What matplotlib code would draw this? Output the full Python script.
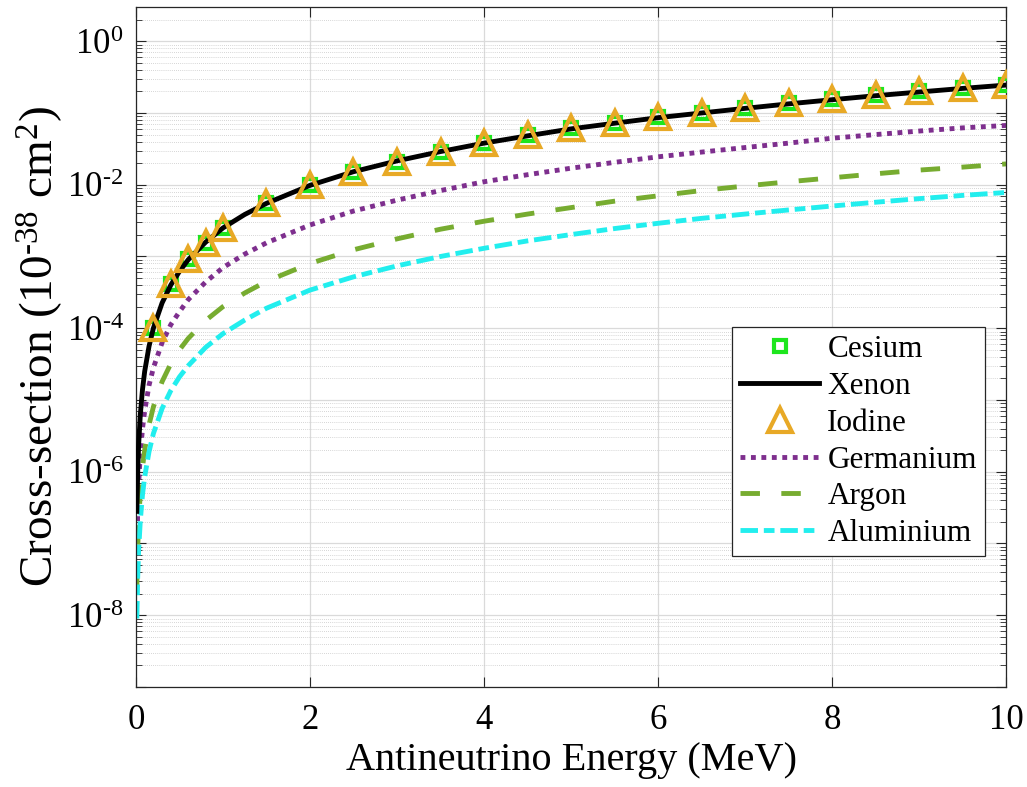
import math

import matplotlib
matplotlib.use('Agg')
import matplotlib.pyplot as plt
from matplotlib.ticker import LogLocator, FixedLocator, FuncFormatter, NullFormatter

plt.rcParams['font.family'] = ['Liberation Serif', 'DejaVu Serif']
plt.rcParams['mathtext.fontset'] = 'custom'
plt.rcParams['mathtext.rm'] = 'Liberation Serif'
plt.rcParams['mathtext.it'] = 'Liberation Serif:italic'

# energies (MeV) for the continuous curves
energy = [0.01, 0.02, 0.03, 0.05, 0.075, 0.1, 0.15, 0.2, 0.3, 0.4, 0.5, 0.6, 0.8,
          1.0, 1.25, 1.5, 2.0, 2.5, 3.0, 3.5, 4.0, 4.5, 5.0, 5.5, 6.0, 6.5, 7.0,
          7.5, 8.0, 8.5, 9.0, 9.5, 10.0]

# cross-sections in units of 1e-38 cm^2
xenon = [2.8e-7, 1.0e-6, 2.3e-6, 6.3e-6, 1.4e-5, 2.5e-5, 5.6e-5, 1.0e-4, 2.25e-4,
         4.0e-4, 6.2e-4, 9.0e-4, 1.58e-3, 2.5e-3, 3.85e-3, 5.5e-3, 9.8e-3, 1.52e-2,
         2.15e-2, 2.9e-2, 3.8e-2, 4.8e-2, 6.0e-2, 7.2e-2, 8.6e-2, 0.100, 0.116,
         0.134, 0.153, 0.174, 0.196, 0.220, 0.245]
germanium = [7.5e-8, 2.9e-7, 6.5e-7, 1.8e-6, 4.0e-6, 7.0e-6, 1.6e-5, 2.8e-5, 6.3e-5,
             1.12e-4, 1.7e-4, 2.5e-4, 4.4e-4, 7.0e-4, 1.08e-3, 1.55e-3, 2.75e-3,
             4.3e-3, 6.1e-3, 8.3e-3, 1.1e-2, 1.38e-2, 1.7e-2, 2.05e-2, 2.45e-2,
             2.85e-2, 3.3e-2, 3.8e-2, 4.45e-2, 5.0e-2, 5.6e-2, 6.2e-2, 6.7e-2]
argon = [2.6e-8, 8.5e-8, 1.9e-7, 5.2e-7, 1.15e-6, 2.0e-6, 4.5e-6, 8.0e-6, 1.8e-5,
         3.2e-5, 5.0e-5, 7.2e-5, 1.28e-4, 2.0e-4, 3.1e-4, 4.5e-4, 8.0e-4, 1.24e-3,
         1.76e-3, 2.4e-3, 3.1e-3, 3.9e-3, 4.8e-3, 5.9e-3, 7.0e-3, 8.3e-3, 9.6e-3,
         1.1e-2, 1.25e-2, 1.42e-2, 1.6e-2, 1.76e-2, 1.95e-2]
aluminium = [9.0e-9, 3.4e-8, 7.7e-8, 2.1e-7, 4.8e-7, 8.5e-7, 1.9e-6, 3.4e-6, 7.6e-6,
             1.35e-5, 2.1e-5, 3.0e-5, 5.4e-5, 8.4e-5, 1.3e-4, 1.9e-4, 3.4e-4, 5.2e-4,
             7.4e-4, 1.0e-3, 1.3e-3, 1.65e-3, 2.02e-3, 2.45e-3, 2.9e-3, 3.4e-3,
             3.9e-3, 4.45e-3, 5.05e-3, 5.7e-3, 6.4e-3, 7.1e-3, 7.8e-3]

# sampled points drawn as markers
energy_pts = [0.2, 0.4, 0.6, 0.8, 1.0, 1.5, 2.0, 2.5, 3.0, 3.5, 4.0, 4.5, 5.0, 5.5,
              6.0, 6.5, 7.0, 7.5, 8.0, 8.5, 9.0, 9.5, 10.0]
cesium = [1.0e-4, 4.1e-4, 9.1e-4, 1.56e-3, 2.5e-3, 5.5e-3, 1.0e-2, 1.51e-2, 2.1e-2,
          2.9e-2, 3.8e-2, 4.9e-2, 6.1e-2, 7.3e-2, 8.8e-2, 0.100, 0.117, 0.137,
          0.156, 0.178, 0.200, 0.222, 0.245]
iodine = [1.0e-4, 4.1e-4, 9.1e-4, 1.56e-3, 2.5e-3, 5.5e-3, 1.0e-2, 1.51e-2, 2.1e-2,
          2.9e-2, 3.8e-2, 4.9e-2, 6.1e-2, 7.3e-2, 8.8e-2, 0.100, 0.117, 0.137,
          0.156, 0.178, 0.200, 0.222, 0.245]

x_ticks = [0, 2, 4, 6, 8, 10]
y_decades = list(range(-9, 1))

fig = plt.figure(figsize=(10.27, 7.87), dpi=100)
ax = fig.add_axes([0.1324, 0.1271, 0.8472, 0.864])

ax.plot(energy_pts, cesium, ls='none', marker='s', ms=9, mew=3,
        mfc='none', mec='#1de61d', label='Cesium', zorder=3)
ax.plot(energy, xenon, color='black', lw=3.5, label='Xenon', zorder=4)
ax.plot(energy_pts, iodine, ls='none', marker='^', ms=17, mew=3,
        mfc='none', mec='#e8a926', label='Iodine', zorder=5)
ax.plot(energy, germanium, color='#7e2f8e', lw=3.5, ls=(0, (1, 1.15)),
        dash_capstyle='butt', label='Germanium')
ax.plot(energy, argon, color='#77ac30', lw=3.5, ls=(0, (4, 4.4)),
        dash_capstyle='butt', label='Argon')
ax.plot(energy, aluminium, color='#22eeee', lw=3.5, ls=(0, (3.6, 1.2, 2.2, 1.2)),
        dash_capstyle='butt', label='Aluminium')

ax.set_yscale('log')
ax.set_xlim(0, 10)
ax.set_ylim(1e-9, 3)

ax.xaxis.set_major_locator(FixedLocator(x_ticks))
ax.yaxis.set_major_locator(FixedLocator([10.0 ** k for k in y_decades]))
ax.yaxis.set_minor_locator(LogLocator(base=10, subs=range(2, 10), numticks=30))
ax.yaxis.set_minor_formatter(NullFormatter())


def decade_label(v, pos):
    # label every second decade, with a plain hyphen for the sign
    k = int(round(math.log10(v)))
    if k % 2:
        return ''
    if k < 0:
        return r'$\mathrm{10^{\text{-}%d}}$' % -k
    return r'$\mathrm{10^{%d}}$' % k


ax.yaxis.set_major_formatter(FuncFormatter(decade_label))

ax.tick_params(which='both', direction='in', top=True, right=True,
               colors='#262626', labelcolor='black', labelsize=25)
ax.tick_params(which='major', length=7, width=0.8)
ax.tick_params(which='minor', length=4, width=0.6)
ax.tick_params(axis='x', pad=12)
ax.tick_params(axis='y', pad=9)

ax.grid(True, which='major', color='#dadada', lw=0.9, ls='-')
ax.grid(True, which='minor', axis='y', color='#c8c8c8', lw=0.6, ls=(0, (1, 1.5)))
ax.set_axisbelow(True)

for spine in ax.spines.values():
    spine.set_color('#262626')
    spine.set_linewidth(0.9)

ax.set_xlabel('Antineutrino Energy (MeV)', fontsize=29, labelpad=4)
ax.set_ylabel(r'Cross-section (10$^{\text{-}38}$ cm$^2$)', fontsize=34)
ax.yaxis.set_label_coords(-0.082, 0.5)

leg = ax.legend(loc='upper left', bbox_to_anchor=(0.685, 0.529), borderaxespad=0,
                fontsize=22.5, numpoints=1, handlelength=2.55, handletextpad=0.25,
                labelspacing=0.25, borderpad=0.25, fancybox=False, framealpha=1)
leg.get_frame().set_edgecolor('#262626')
leg.get_frame().set_linewidth(0.9)

fig.savefig('out.png', dpi=100)
